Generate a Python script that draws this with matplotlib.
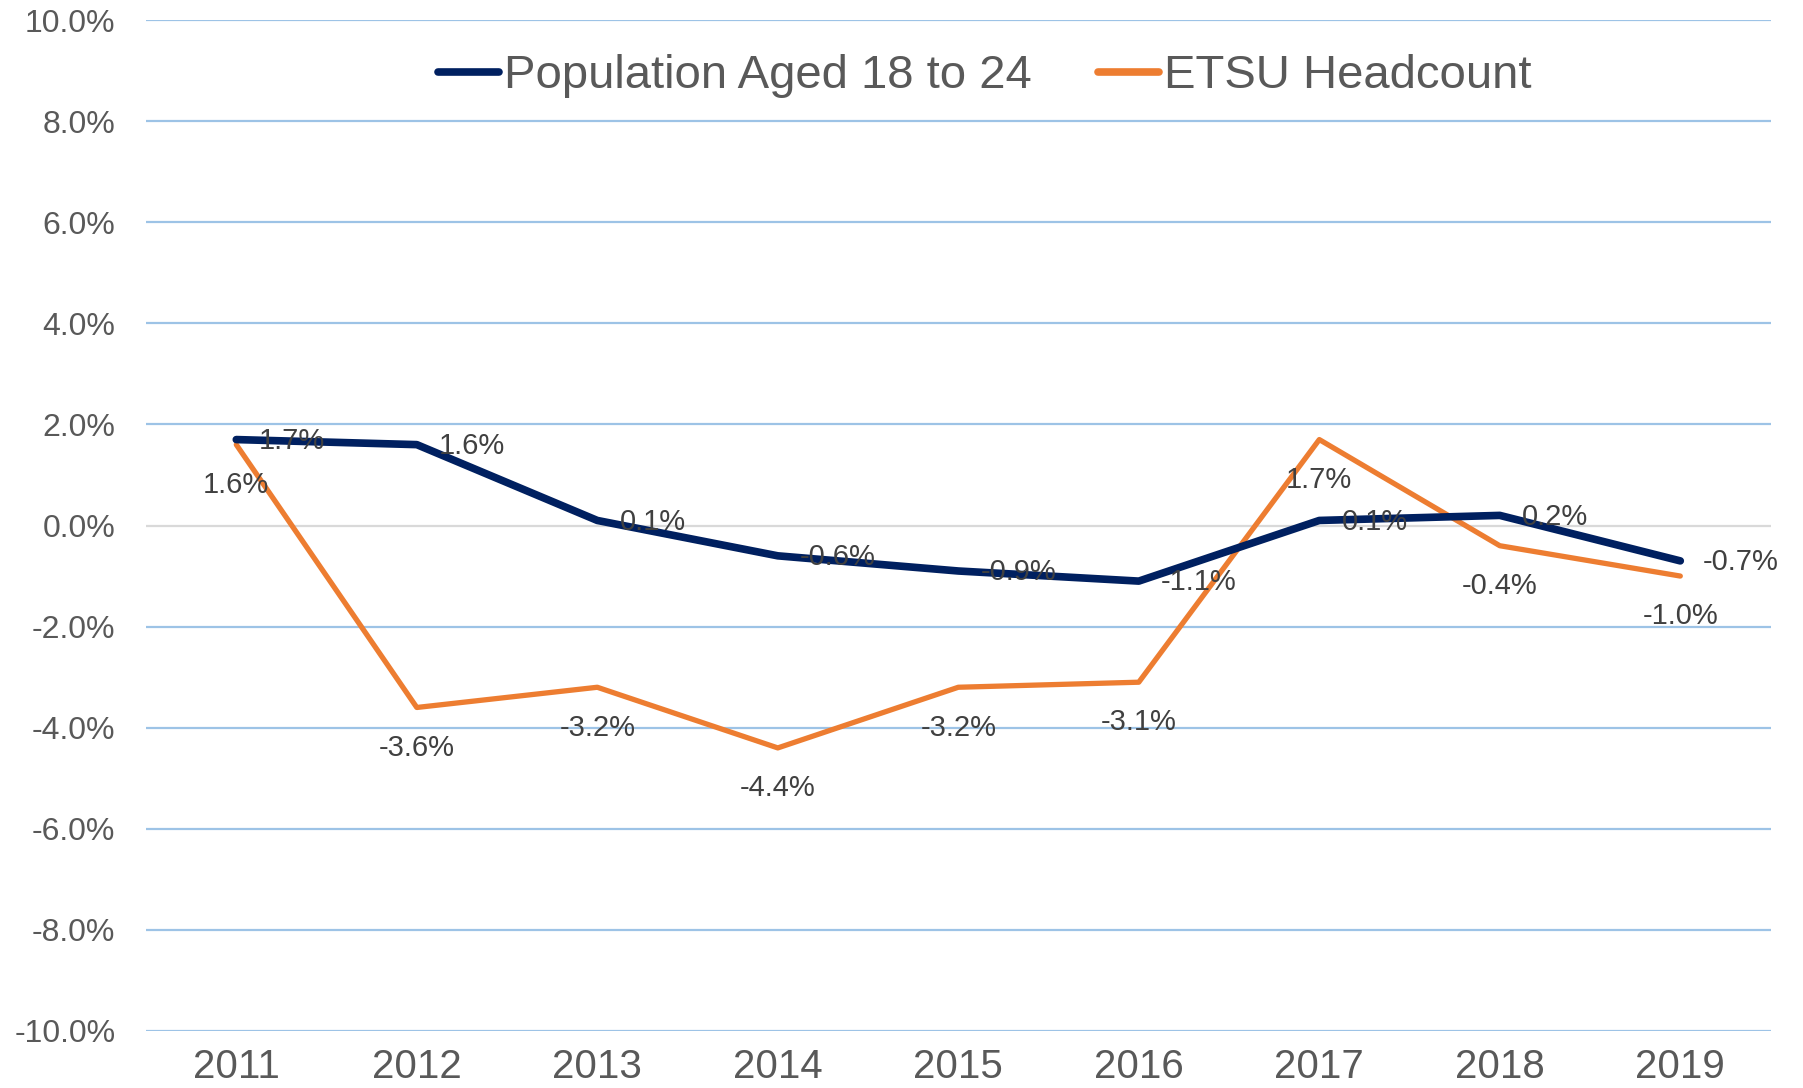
import matplotlib.pyplot as plt

# data
years = ['2011', '2012', '2013', '2014', '2015', '2016', '2017', '2018', '2019']
population = [1.7, 1.6, 0.1, -0.6, -0.9, -1.1, 0.1, 0.2, -0.7]
etsu = [1.6, -3.6, -3.2, -4.4, -3.2, -3.1, 1.7, -0.4, -1.0]
y_ticks = [-10, -8, -6, -4, -2, 0, 2, 4, 6, 8, 10]

plt.rcParams['font.family'] = ['Liberation Sans', 'DejaVu Sans']

text_color = '#595959'
navy = '#002060'
orange = '#ED7D31'

fig = plt.figure(figsize=(18.03, 10.88), dpi=100)
ax = fig.add_axes([0.081, 0.0524, 0.901, 0.9292])

x = list(range(len(years)))

# gridlines
for t in y_ticks:
    ax.axhline(t, color='#D9D9D9' if t == 0 else '#9DC3E6', lw=1.6, zorder=0)

ax.plot(x, population, color=navy, lw=5.5, solid_capstyle='round',
        solid_joinstyle='round', label='Population Aged 18 to 24', zorder=3)
ax.plot(x, etsu, color=orange, lw=3.8, solid_capstyle='round',
        solid_joinstyle='round', label='ETSU Headcount', zorder=2)

# data labels
for i, v in enumerate(population):
    ax.annotate(f'{v:.1f}%', (i, v), xytext=(16, -1), textcoords='offset points',
                ha='left', va='center', fontsize=21, color='#404040', zorder=4)
for i, v in enumerate(etsu):
    ax.annotate(f'{v:.1f}%', (i, v), xytext=(0, -29), textcoords='offset points',
                ha='center', va='center', fontsize=21, color='#404040', zorder=4)

ax.set_xlim(-0.5, len(years) - 0.5)
ax.set_ylim(-10, 10)
ax.set_xticks(x)
ax.set_xticklabels(years, fontsize=29, color=text_color)
ax.set_yticks(y_ticks)
ax.set_yticklabels([f'{t:.1f}%' for t in y_ticks], fontsize=23, color=text_color)
ax.tick_params(axis='both', length=0)
ax.tick_params(axis='y', pad=22)
ax.tick_params(axis='x', pad=12)
for s in ax.spines.values():
    s.set_visible(False)

leg = fig.legend(loc='center', bbox_to_anchor=(0.546, 0.93), ncol=2, frameon=False,
                 fontsize=34, handlelength=1.3, handletextpad=0.1, columnspacing=1.4)
for t in leg.get_texts():
    t.set_color(text_color)
for h in leg.get_lines():
    h.set_linewidth(5.5)

fig.savefig('out.png', dpi=100)
